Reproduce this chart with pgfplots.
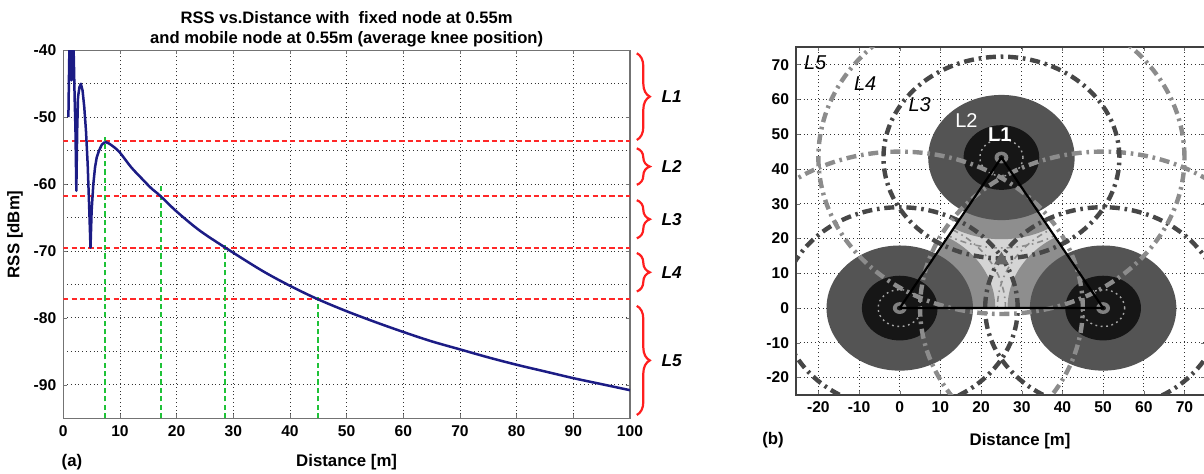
\documentclass[border=0pt]{standalone}
\usepackage{fontspec}
\setmainfont{Liberation Sans}
\usepackage{pgfplots}
\pgfplotsset{compat=1.18}
\usetikzlibrary{decorations.pathreplacing}

\definecolor{rssblue}{HTML}{1C1C85}
\definecolor{lvlred}{HTML}{FF2828}
\definecolor{lvlgreen}{HTML}{1FC238}
\definecolor{braced}{HTML}{FF1E1E}
\definecolor{zoneA}{HTML}{161616}
\definecolor{zoneB}{HTML}{545454}
\definecolor{zoneC}{HTML}{8E8E8E}
\definecolor{zoneD}{HTML}{D5D5D5}
\definecolor{ringdark}{HTML}{474747}
\definecolor{ringlight}{HTML}{8C8C8C}

\newcommand{\tickfont}{\bfseries\fontsize{7.8}{9}\selectfont}
\newcommand{\labfont}{\bfseries\fontsize{8.4}{10}\selectfont}
\newcommand{\lvlfont}{\bfseries\itshape\fontsize{8.6}{10}\selectfont}

% coverage of one node, #1,#2 = its position in metres
\newcommand{\coverage}[2]{%
  \fill[zoneB] (axis cs:#1,#2) circle[radius=18];
  \fill[zoneA] (axis cs:#1,#2) circle[radius=9.3];
  \draw[black!35,line width=0.7pt,dash pattern=on 0.9pt off 1.8pt]
    (axis cs:#1,#2) circle[radius=5.3];
  \fill[gray] (axis cs:#1,#2) circle[radius=1.7];
  \fill[zoneA] (axis cs:#1,#2) circle[radius=0.7];
}
% level boundaries L3/L4 (29 m) and L4/L5 (45 m)
\newcommand{\rings}[2]{%
  \draw[ringlight,line width=2.2pt,dash pattern=on 5pt off 2.4pt on 1.3pt off 2.4pt]
    (axis cs:#1,#2) circle[radius=45];
  \draw[ringdark,line width=2.2pt,dash pattern=on 5pt off 2.4pt on 1.3pt off 2.4pt]
    (axis cs:#1,#2) circle[radius=29];
}

\pgfplotsset{
  matgrid/.style={
    /pgf/number format/assume math mode=true,
    ticklabel style={font=\tickfont},
    label style={font=\labfont},
    axis line style={black!55,line width=0.6pt},
    tick style={black!55},
    tick align=inside,
    major tick length=2pt,
    minor tick length=0pt,
    grid style={black!80,line width=0.45pt,dash pattern=on 0.5pt off 1.4pt},
    minor grid style={black!80,line width=0.45pt,dash pattern=on 0.5pt off 1.4pt},
  },
  lvl/.style={line width=0.95pt,dash pattern=on 2.6pt off 1.6pt},
}

\begin{document}
\begin{tikzpicture}
\useasboundingbox (0pt,0pt) rectangle (602pt,237pt);

% =================== (a) RSS against distance ===================
\begin{axis}[
  matgrid,
  at={(31.65pt,27.85pt)}, anchor=south west,
  width=283.35pt, height=184pt, scale only axis,
  xmin=0, xmax=100, ymin=-95, ymax=-40,
  xtick={0,10,...,100}, ytick={-90,-80,...,-40},
  minor ytick={-85,-75,...,-45},
  xmajorgrids, ymajorgrids, yminorgrids,
  every axis title shift=0pt,
  title={RSS vs.Distance with\ \ fixed node at 0.55m\\and mobile node at 0.55m (average knee position)},
  title style={at={(axis description cs:0.5,1)},anchor=south,inner sep=1.5pt,
    align=center,font=\bfseries\fontsize{8.3}{9.8}\selectfont},
  xlabel={Distance [m]}, ylabel={RSS [dBm]},
  xlabel style={at={(axis description cs:0.5,-0.12)},anchor=center},
  ylabel style={at={(axis description cs:-0.085,0.5)},anchor=center},
]
% level thresholds
\addplot[lvl,color=lvlred] coordinates {(0,-53.6) (100,-53.6)};
\addplot[lvl,color=lvlred] coordinates {(0,-61.75) (100,-61.75)};
\addplot[lvl,color=lvlred] coordinates {(0,-69.5) (100,-69.5)};
\addplot[lvl,color=lvlred] coordinates {(0,-77.2) (100,-77.2)};
\addplot[lvl,color=lvlgreen] coordinates {(7.35,-95) (7.35,-53)};
\addplot[lvl,color=lvlgreen] coordinates {(17.2,-95) (17.2,-60)};
\addplot[lvl,color=lvlgreen] coordinates {(28.6,-95) (28.6,-68.8)};
\addplot[lvl,color=lvlgreen] coordinates {(44.9,-95) (44.9,-76.8)};

% near field (two-ray fading)
\addplot[rssblue,line width=1.25pt,line join=round] coordinates {
  (0.9,-50.0) (1.0,-44) (1.1,-38.5) (1.2,-41) (1.3,-38) (1.45,-44.5)
  (1.6,-42) (1.7,-38) (1.85,-41) (2.0,-47) (2.15,-52) (2.3,-61)
  (2.45,-52) (2.6,-47) (2.85,-45.5) (3.1,-45.0) (3.4,-46) (3.7,-48.5)
  (4.0,-52) (4.3,-57) (4.55,-63) (4.8,-69.5) (5.0,-64) (5.3,-60.0)
  (5.6,-57.5) (5.9,-56) (6.3,-55) (6.8,-54.1) (7.35,-53.7)
};
% far field
\addplot[rssblue,line width=1.25pt,smooth,tension=0.5] coordinates {
  (7.35,-53.7) (8,-53.9) (9,-54.5) (10,-55.3) (12,-57.5) (14,-59.3)
  (15.5,-60.6) (17.1,-61.75) (20,-64.1) (24,-66.9) (28.6,-69.5)
  (35,-72.9) (40,-75.2) (44.9,-77.2) (50,-79.0) (55,-80.6) (60,-82.1)
  (65,-83.5) (70,-84.7) (75,-85.9) (80,-87.0) (85,-88.0) (90,-89.0)
  (95,-89.9) (100,-90.8)
};
\coordinate (b1) at (axis cs:101.2,-40.45);
\coordinate (b2) at (axis cs:101.2,-53.4);
\coordinate (b3) at (axis cs:101.2,-54.65);
\coordinate (b4) at (axis cs:101.2,-60.1);
\coordinate (b5) at (axis cs:101.2,-62.4);
\coordinate (b6) at (axis cs:101.2,-68.1);
\coordinate (b7) at (axis cs:101.2,-70.3);
\coordinate (b8) at (axis cs:101.2,-76.05);
\coordinate (b9) at (axis cs:101.2,-78.2);
\coordinate (b10) at (axis cs:101.2,-94.5);
\end{axis}

\begin{scope}[braced,line width=1.1pt,decoration={brace,amplitude=6.5pt}]
  \draw[decorate] (b1) -- (b2) node[midway,right=8.5pt,black,font=\lvlfont]{L1};
  \draw[decorate] (b3) -- (b4) node[midway,right=8.5pt,black,font=\lvlfont]{L2};
  \draw[decorate] (b5) -- (b6) node[midway,right=8.5pt,black,font=\lvlfont]{L3};
  \draw[decorate] (b7) -- (b8) node[midway,right=8.5pt,black,font=\lvlfont]{L4};
  \draw[decorate] (b9) -- (b10) node[midway,right=8.5pt,black,font=\lvlfont]{L5};
\end{scope}
\node[font=\labfont] at (36pt,6pt) {(a)};

% =================== (b) coverage map of three nodes ===================
\begin{axis}[
  matgrid,
  at={(398pt,39.5pt)}, anchor=south west,
  width=204.4pt, height=173.85pt, scale only axis,
  xmin=-25.5, xmax=75, ymin=-25, ymax=75,
  xtick={-20,-10,...,70}, ytick={-20,-10,...,70},
  xmajorgrids, ymajorgrids,
  axis line style={black!75,line width=0.8pt},
  xlabel={Distance [m]},
  xlabel style={at={(axis description cs:0.548,-0.134)},anchor=center},
]
\fill[zoneD] (axis cs:0,0) -- (axis cs:50,0) -- (axis cs:25,43.3) -- cycle;
\begin{scope}
  \clip (axis cs:0,0) -- (axis cs:50,0) -- (axis cs:25,43.3) -- cycle;
  \fill[zoneC] (axis cs:0,0) circle[radius=23.5];
  \fill[zoneC] (axis cs:50,0) circle[radius=23.5];
  \fill[zoneC] (axis cs:25,43.3) circle[radius=23.5];
  \draw[black!45,line width=0.8pt,dash pattern=on 3pt off 2pt on 0.8pt off 2pt]
    (axis cs:0,0) circle[radius=26];
  \draw[black!45,line width=0.8pt,dash pattern=on 3pt off 2pt on 0.8pt off 2pt]
    (axis cs:50,0) circle[radius=26];
  \draw[black!45,line width=0.8pt,dash pattern=on 3pt off 2pt on 0.8pt off 2pt]
    (axis cs:25,43.3) circle[radius=26];
\end{scope}
\coverage{0}{0}
\coverage{50}{0}
\coverage{25}{43.3}
\rings{0}{0}
\rings{50}{0}
\rings{25}{43.3}
\fill[black!60] (axis cs:23.2,12.6) -- (axis cs:26.8,12.6) -- (axis cs:25,16.2) -- cycle;
\addplot[black,line width=1.1pt,line join=round] coordinates {(0,0) (50,0) (25,43.3) (0,0)};
\node[font=\itshape\fontsize{10}{12}\selectfont] at (axis cs:-20.8,70.5) {L5};
\node[font=\itshape\fontsize{10}{12}\selectfont] at (axis cs:-8.5,64.6) {L4};
\node[font=\itshape\fontsize{10}{12}\selectfont] at (axis cs:4.9,58.4) {L3};
\node[white,font=\fontsize{10}{12}\selectfont] at (axis cs:16.4,54) {L2};
\node[white,font=\bfseries\fontsize{10}{12}\selectfont] at (axis cs:24.6,49.9) {L1};
\end{axis}
\node[font=\labfont] at (386.5pt,17pt) {(b)};

\end{tikzpicture}
\end{document}
